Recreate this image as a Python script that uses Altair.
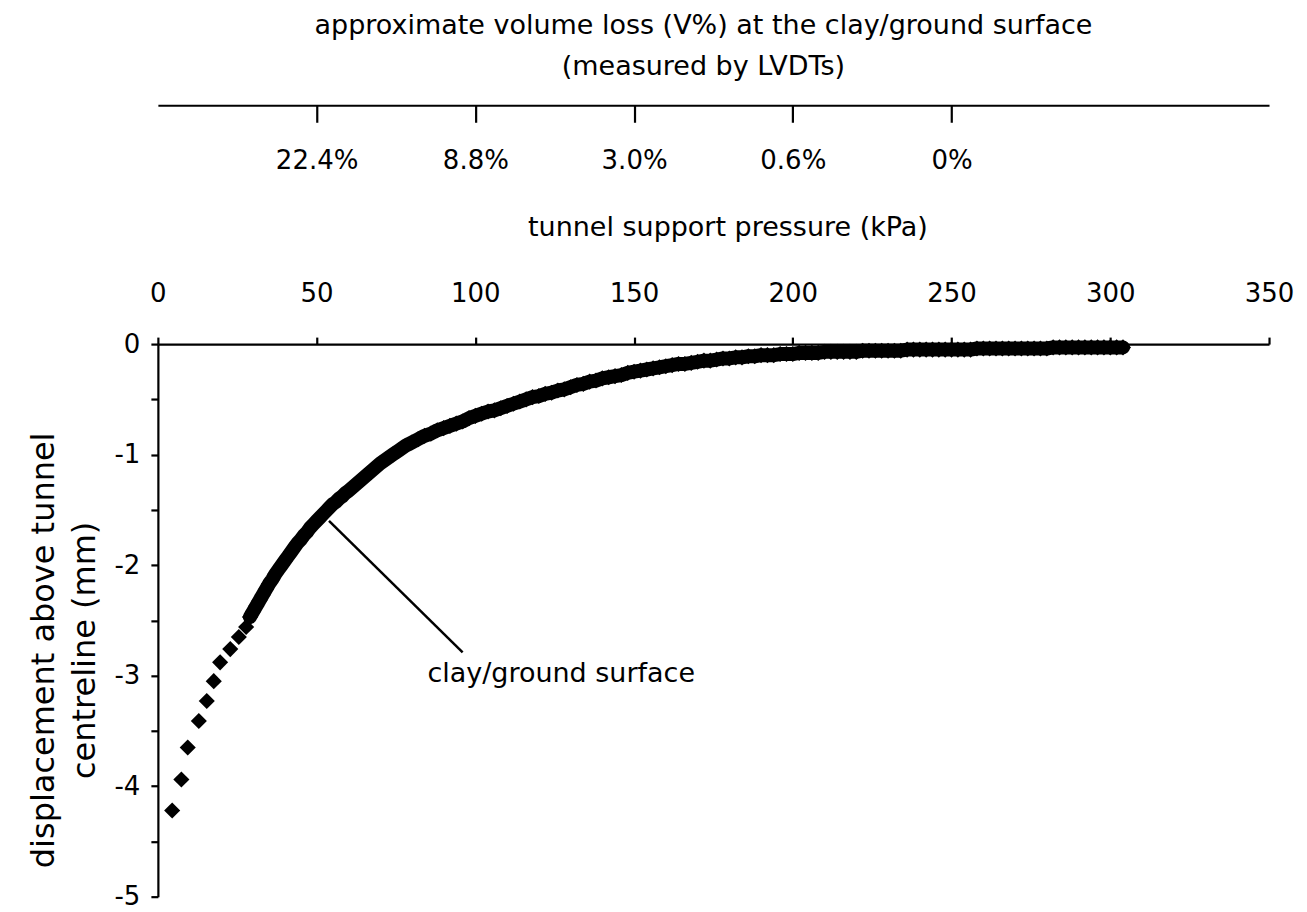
import altair as alt
import pandas as pd

FONT = "DejaVu Sans"

# axis tick values
x_ticks = [0, 50, 100, 150, 200, 250, 300, 350]
y_ticks = [0, -0.5, -1, -1.5, -2, -2.5, -3, -3.5, -4, -4.5, -5]

# secondary (volume loss) scale
vl_pressure = [50, 100, 150, 200, 250]
vl_labels = ["22.4%", "8.8%", "3.0%", "0.6%", "0%"]

# low-pressure, sparsely spaced readings
sparse_pressure = [4.5, 7.4, 9.4, 12.9, 15.4, 17.6, 19.6, 22.8, 25.5, 27.8]
sparse_disp = [-4.22, -3.94, -3.65, -3.41, -3.23, -3.05, -2.88, -2.76, -2.65, -2.56]

# densely spaced readings
dense_pressure = [
    29, 30, 31, 32, 33, 34, 35, 36, 37, 38, 39, 40, 41, 42, 43, 44, 45, 46, 47, 48,
    49, 50, 51, 52, 53, 54, 55, 56, 57, 58, 59, 60,
    62, 64, 66, 68, 70, 72, 74, 76, 78, 80, 82, 84, 86, 88, 90, 92, 94, 96, 98, 100,
    102, 104, 106, 108, 110, 112, 114, 116, 118, 120, 122, 124, 126, 128, 130,
    132, 134, 136, 138, 140, 142, 144, 146, 148, 150, 152, 154, 156, 158, 160,
    162, 164, 166, 168, 170, 172, 174, 176, 178, 180, 182, 184, 186, 188, 190,
    192, 194, 196, 198, 200, 202, 204, 206, 208, 210, 212, 214, 216, 218, 220,
    222, 224, 226, 228, 230, 232, 234, 236, 238, 240, 242, 244, 246, 248, 250,
    252, 254, 256, 258, 260, 262, 264, 266, 268, 270, 272, 274, 276, 278, 280,
    282, 284, 286, 288, 290, 292, 294, 296, 298, 300, 302, 304,
]
dense_disp = [
    -2.47, -2.42, -2.37, -2.32, -2.27, -2.22, -2.17, -2.13, -2.08, -2.04, -2.00, -1.96,
    -1.92, -1.88, -1.84, -1.80, -1.77, -1.73, -1.70, -1.66,
    -1.63, -1.60, -1.57, -1.54, -1.51, -1.48, -1.45, -1.43, -1.40, -1.38, -1.35, -1.33,
    -1.28, -1.23, -1.18, -1.13, -1.08, -1.04, -1.00, -0.96, -0.92, -0.89, -0.86, -0.83,
    -0.81, -0.78, -0.76, -0.74, -0.72, -0.70, -0.67, -0.65,
    -0.63, -0.61, -0.60, -0.58, -0.56, -0.54, -0.52, -0.50, -0.48, -0.47, -0.45, -0.44,
    -0.42, -0.41, -0.39,
    -0.37, -0.36, -0.34, -0.33, -0.31, -0.30, -0.29, -0.28, -0.26, -0.25, -0.24, -0.23,
    -0.22, -0.21, -0.20,
    -0.19, -0.18, -0.18, -0.17, -0.16, -0.15, -0.15, -0.14, -0.13, -0.13, -0.12, -0.12,
    -0.11, -0.11, -0.10,
    -0.10, -0.10, -0.09, -0.09, -0.09, -0.08, -0.08, -0.08, -0.08, -0.07, -0.07, -0.07,
    -0.07, -0.07, -0.07,
    -0.06, -0.06, -0.06, -0.06, -0.06, -0.06, -0.06, -0.05, -0.05, -0.05, -0.05, -0.05,
    -0.05, -0.05, -0.05,
    -0.05, -0.05, -0.05, -0.04, -0.04, -0.04, -0.04, -0.04, -0.04, -0.04, -0.04, -0.04,
    -0.04, -0.04, -0.04,
    -0.03, -0.03, -0.03, -0.03, -0.03, -0.03, -0.03, -0.03, -0.03, -0.03, -0.03, -0.03,
]

# annotation
annot_line_pressure = [53.9, 96.0]
annot_line_disp = [-1.60, -2.79]
annot_text_pressure = [84.9]
annot_text_disp = [-3.056]
annot_text = ["clay/ground surface"]

W, H = 1112, 553

points_df = pd.DataFrame({"p": sparse_pressure + dense_pressure,
                          "d": sparse_disp + dense_disp})
dense_df = pd.DataFrame({"p": dense_pressure, "d": dense_disp})
annot_line_df = pd.DataFrame({"p": annot_line_pressure, "d": annot_line_disp})
annot_text_df = pd.DataFrame({"p": annot_text_pressure, "d": annot_text_disp, "t": annot_text})
vl_df = pd.DataFrame({"p": vl_pressure, "lab": vl_labels})

xscale = alt.Scale(domain=[0, 350], nice=False, zero=False)
yscale = alt.Scale(domain=[-5, 0], nice=False, zero=False)

label_map = "{" + ",".join(f"'{p}':'{l}'" for p, l in zip(vl_pressure, vl_labels)) + "}"

common_axis = dict(
    grid=False, domainColor="black", tickColor="black", domainWidth=2.2, tickWidth=2.2,
    labelFont=FONT, labelFontSize=26, labelColor="black",
    titleFont=FONT, titleFontWeight="normal", titleColor="black",
)

x_primary = alt.Axis(
    orient="top", values=x_ticks, title="tunnel support pressure (kPa)",
    tickSize=7, labelPadding=31, labelFlush=False, labelOverlap=False,
    titleFontSize=27,
    titleX=570, titleY=-109, titleAlign="center", titleBaseline="alphabetic",
    **common_axis,
)
y_axis = alt.Axis(
    values=y_ticks, tickSize=7, labelPadding=11,
    labelExpr="datum.value % 1 == 0 ? '' + datum.value : ''",
    labelOverlap=False, labelFlush=False,
    title=["displacement above tunnel", "centreline (mm)"],
    titleFontSize=32,
    titleAngle=-90, titleX=-114, titleY=306, titleAlign="center",
    titleBaseline="middle", titleLineHeight=41,
    **common_axis,
)
x_secondary = alt.Axis(
    orient="bottom", offset=-(H + 239), values=vl_pressure,
    labelExpr=f"{label_map}[datum.value]", title=None,
    tickSize=17, labelPadding=25, labelOverlap=False, labelFlush=False,
    **common_axis,
)

band = alt.Chart(dense_df).mark_line(
    color="black", strokeWidth=14, strokeCap="round", strokeJoin="round"
).encode(
    x=alt.X("p:Q", scale=xscale, axis=x_primary),
    y=alt.Y("d:Q", scale=yscale, axis=y_axis),
)

annot_line = alt.Chart(annot_line_df).mark_line(color="black", strokeWidth=2.5).encode(
    x=alt.X("p:Q", scale=xscale, axis=None),
    y=alt.Y("d:Q", scale=yscale, axis=None),
)

points = alt.Chart(points_df).mark_point(
    shape="diamond", filled=True, size=260, color="black", opacity=1
).encode(
    x=alt.X("p:Q", scale=xscale, axis=None),
    y=alt.Y("d:Q", scale=yscale, axis=None),
)

annot_txt = alt.Chart(annot_text_df).mark_text(
    align="left", baseline="alphabetic", font=FONT, fontSize=27, color="black"
).encode(
    x=alt.X("p:Q", scale=xscale, axis=None),
    y=alt.Y("d:Q", scale=yscale, axis=None),
    text="t:N",
)

secondary = alt.Chart(vl_df).mark_point(opacity=0).encode(
    x=alt.X("p:Q", scale=xscale, axis=x_secondary),
)

chart = alt.layer(band, annot_line, points, annot_txt, secondary).resolve_axis(
    x="independent", y="independent"
).properties(
    width=W,
    height=H,
    background="white",
    autosize=alt.AutoSizeParams(type="none"),
    padding={"left": 150, "top": 336, "right": 30, "bottom": 14},
    title=alt.TitleParams(
        text=["approximate volume loss (V%) at the clay/ground surface", "(measured by LVDTs)"],
        font=FONT, fontSize=27, fontWeight="normal", color="black",
        anchor="middle", offset=23, lineHeight=41, dx=-10,
    ),
).configure_view(stroke=None)

chart.save("out.html", embed_options={"renderer": "svg", "actions": False})
